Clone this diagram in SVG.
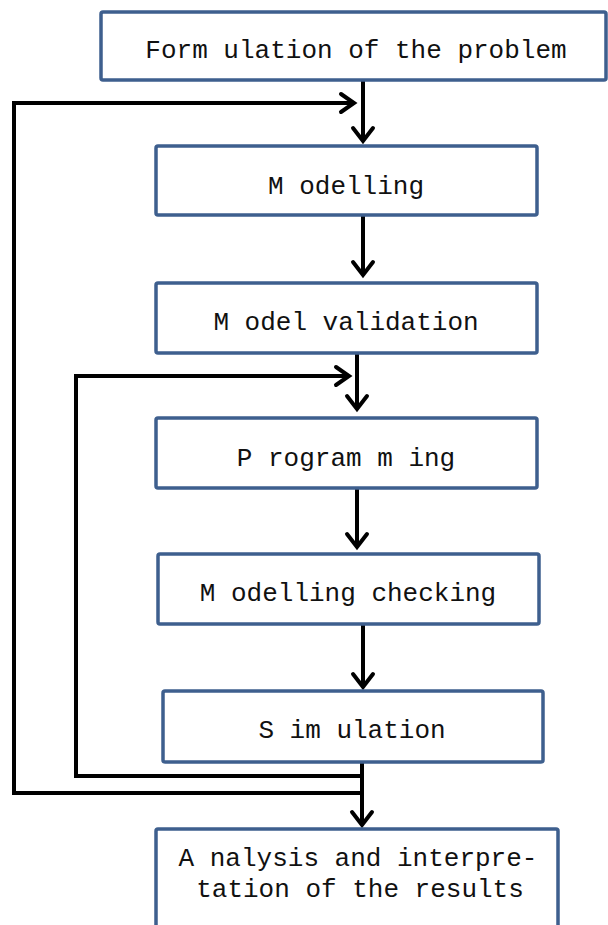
<svg xmlns="http://www.w3.org/2000/svg" width="608" height="925" viewBox="0 0 608 925">
  <style>
    .box { fill: #ffffff; stroke: #3e5f8e; stroke-width: 3.5; }
    .lbl { font-family: "Liberation Mono", "Courier New", monospace; font-size: 26px; fill: #111111; text-anchor: middle; }
    .wire { fill: none; stroke: #000000; stroke-width: 4; stroke-linejoin: miter; }
    .head { fill: none; stroke: #000000; stroke-width: 4; stroke-linecap: round; stroke-linejoin: miter; }
  </style>
  <rect width="608" height="925" fill="#ffffff"/>

  <g id="connectors">
    <!-- main downward flow -->
    <path class="wire" d="M363 80 V140"/>
    <path class="head" d="M353 128 L363 141 L373 128"/>
    <path class="wire" d="M363 215 V274"/>
    <path class="head" d="M353 262 L363 275 L373 262"/>
    <path class="wire" d="M357 353 V408"/>
    <path class="head" d="M347 396 L357 409 L367 396"/>
    <path class="wire" d="M357 488 V546"/>
    <path class="head" d="M347 534 L357 547 L367 534"/>
    <path class="wire" d="M363 624 V686"/>
    <path class="head" d="M353 674 L363 687 L373 674"/>
    <path class="wire" d="M362 762 V824"/>
    <path class="head" d="M352 812 L362 825 L372 812"/>
    <!-- outer feedback loop back to modelling -->
    <path class="wire" d="M360 793 H14 V103 H353"/>
    <path class="head" d="M341 94 L354 103 L341 112"/>
    <!-- inner feedback loop back to programming -->
    <path class="wire" d="M360 776 H76 V376 H348"/>
    <path class="head" d="M336 367 L349 376 L336 385"/>
  </g>

  <g id="formulation">
    <rect class="box" x="101" y="12" width="505" height="68" rx="2"/>
    <text class="lbl" x="356" y="58">Form ulation of the problem</text>
  </g>
  <g id="modelling">
    <rect class="box" x="156" y="146" width="381" height="69" rx="2"/>
    <text class="lbl" x="346" y="194">M odelling</text>
  </g>
  <g id="model-validation">
    <rect class="box" x="156" y="283" width="381" height="70" rx="2"/>
    <text class="lbl" x="346" y="330">M odel validation</text>
  </g>
  <g id="programming">
    <rect class="box" x="156" y="418" width="381" height="70" rx="2"/>
    <text class="lbl" x="346" y="466">P rogram m ing</text>
  </g>
  <g id="modelling-checking">
    <rect class="box" x="158" y="554" width="381" height="70" rx="2"/>
    <text class="lbl" x="348" y="601">M odelling checking</text>
  </g>
  <g id="simulation">
    <rect class="box" x="163" y="691" width="380" height="71" rx="2"/>
    <text class="lbl" x="352" y="738">S im ulation</text>
  </g>
  <g id="analysis">
    <rect class="box" x="156" y="829" width="402" height="100" rx="2"/>
    <text class="lbl" x="358" y="866">A nalysis and interpre-</text>
    <text class="lbl" x="360" y="897">tation of the results</text>
  </g>
</svg>
